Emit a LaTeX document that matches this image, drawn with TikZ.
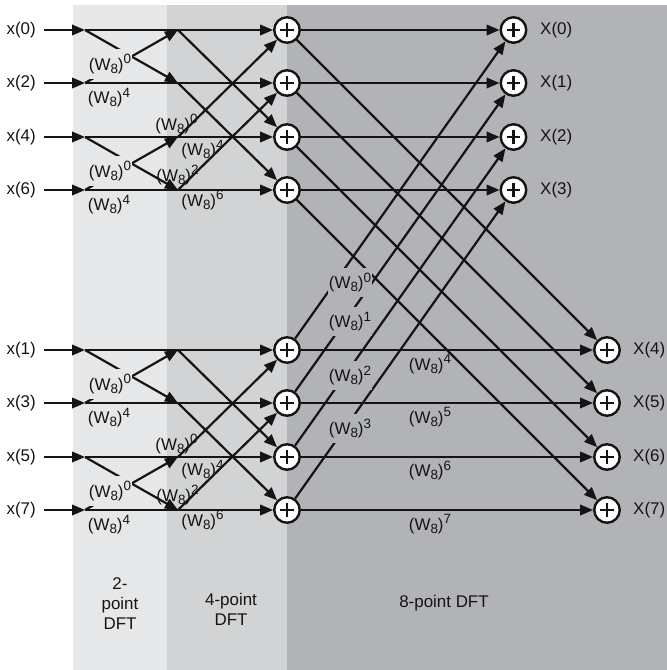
\documentclass[tikz,border=0pt]{standalone}
\usepackage{fontspec}
\setmainfont{Liberation Sans}
\usetikzlibrary{arrows.meta}
\definecolor{panelA}{HTML}{E6E7E8}
\definecolor{panelB}{HTML}{D1D3D4}
\definecolor{panelC}{HTML}{B1B3B6}
\definecolor{ink}{HTML}{141414}
% twiddle factor (W_8)^k in text mode
\newcommand\twid[1]{(W\raisebox{-0.35ex}{\fontsize{13.5}{13.5}\selectfont 8})\raisebox{0.75ex}{\fontsize{13.5}{13.5}\selectfont #1}}

\begin{document}
\begin{tikzpicture}[x=1bp,y=-1bp,
  font=\fontsize{17}{20}\selectfont, text=ink,
  wire/.style={line width=2.2bp, draw=ink},
  arr/.style={wire, -{Triangle[length=13bp,width=10.5bp]}},
  adder/.style={circle, draw=ink, fill=white, line width=2.4bp,
    minimum size=25.5bp, inner sep=0pt,
    path picture={\draw[line width=2.1bp, ink]
      ([xshift=-6.8bp]path picture bounding box.center) -- ([xshift=6.8bp]path picture bounding box.center)
      ([yshift=-6.8bp]path picture bounding box.center) -- ([yshift=6.8bp]path picture bounding box.center);}},
  inlabel/.style={anchor=east, inner xsep=8bp, inner ysep=0pt},
  outlabel/.style={anchor=west, inner sep=0pt},
  wlab/.style={inner sep=0pt},
  wcover/.style={fill=#1, inner xsep=1bp, inner ysep=5bp},
  stagelbl/.style={align=center, inner sep=0pt}]

\useasboundingbox (0,0) rectangle (667,670);

% stage panels
\fill[panelA] (73,5) rectangle (167,670);
\fill[panelB] (167,5) rectangle (287,670);
\fill[panelC] (287,5) rectangle (667,670);

% inputs (bit-reversed order), butterfly points and first adders
\foreach \n/\y [count=\i from 0] in {0/30,2/83,4/137,6/190,1/350,3/403,5/457,7/510} {
  \node[inlabel] (in\i) at (44,\y) {x(\n)};
  \coordinate (s\i) at (85,\y);
  \coordinate (a\i) at (178,\y);
  \node[adder] (p\i) at (287,\y) {};
}
% outputs
\foreach \y [count=\i from 0] in {30,83,137,190} {
  \node[adder] (r\i) at (513.5,\y) {};
  \node[outlabel] (o\i) at (540,\y) {X(\i)};
}
\foreach \y [count=\j from 4] in {350,403,457,510} {
  \node[adder] (r\j) at (607,\y) {};
  \node[outlabel] (o\j) at (633,\y) {X(\j)};
}

% input arrows and straight paths through the first two stages
\foreach \i in {0,...,7} {
  \draw[arr] (in\i) -- (s\i);
  \draw[arr] (s\i) -- (p\i);
}

% 2-point butterflies
\foreach \k in {0,2,4,6} {
  \pgfmathtruncatemacro\m{\k+1}
  \draw[arr] (s\k) -- (a\m);
  \draw[arr] (s\m) -- (a\k);
}

% 4-point butterflies
\foreach \k in {0,4} {
  \pgfmathtruncatemacro\ka{\k+1}
  \pgfmathtruncatemacro\kb{\k+2}
  \pgfmathtruncatemacro\kc{\k+3}
  \draw[arr] (a\k) -- (p\kb);
  \draw[arr] (a\ka) -- (p\kc);
  \draw[arr] (a\kb) -- (p\k);
  \draw[arr] (a\kc) -- (p\ka);
}

% 8-point butterfly
\foreach \i in {0,...,7} {
  \draw[arr] (p\i) -- (r\i);
}
\foreach \i in {0,...,3} {
  \pgfmathtruncatemacro\j{\i+4}
  \draw[arr] (p\i) -- (r\j);
  \draw[arr] (p\j) -- (r\i);
}

% twiddle factors, 2-point stage
\foreach \y [count=\c] in {30,137,350,457} {
  \node[wcover=panelA] (wa\c) at (110,\y+34) {\twid{0}};
  \node[wlab] (wb\c) at (109,\y+67.5) {\twid{4}};
}
% twiddle factors, 4-point stage
\foreach \y [count=\c] in {30,350} {
  \node[wlab] (wc\c) at (176.5,\y+94) {\twid{0}};
  \node[wlab] (wd\c) at (202.5,\y+119.5) {\twid{4}};
  \node[wlab] (we\c) at (177.5,\y+145) {\twid{2}};
  \node[wlab] (wf\c) at (202.5,\y+170) {\twid{6}};
}
% twiddle factors, 8-point stage
\node[wcover=panelC] (wg0) at (350,282.5) {\twid{0}};
\node[wcover=panelC] (wg1) at (350,321.5) {\twid{1}};
\node[wcover=panelC] (wg2) at (350,375.5) {\twid{2}};
\node[wcover=panelC] (wg3) at (350,428.5) {\twid{3}};
\node[wlab] (wg4) at (430,364) {\twid{4}};
\node[wlab] (wg5) at (430,417) {\twid{5}};
\node[wlab] (wg6) at (430,470.5) {\twid{6}};
\node[wlab] (wg7) at (430,524) {\twid{7}};

% stage captions
\node[stagelbl] (cap2) at (120,604) {2-\\point\\DFT};
\node[stagelbl] (cap4) at (231,609) {4-point\\DFT};
\node[stagelbl] (cap8) at (444,603) {8-point DFT};

\end{tikzpicture}
\end{document}
